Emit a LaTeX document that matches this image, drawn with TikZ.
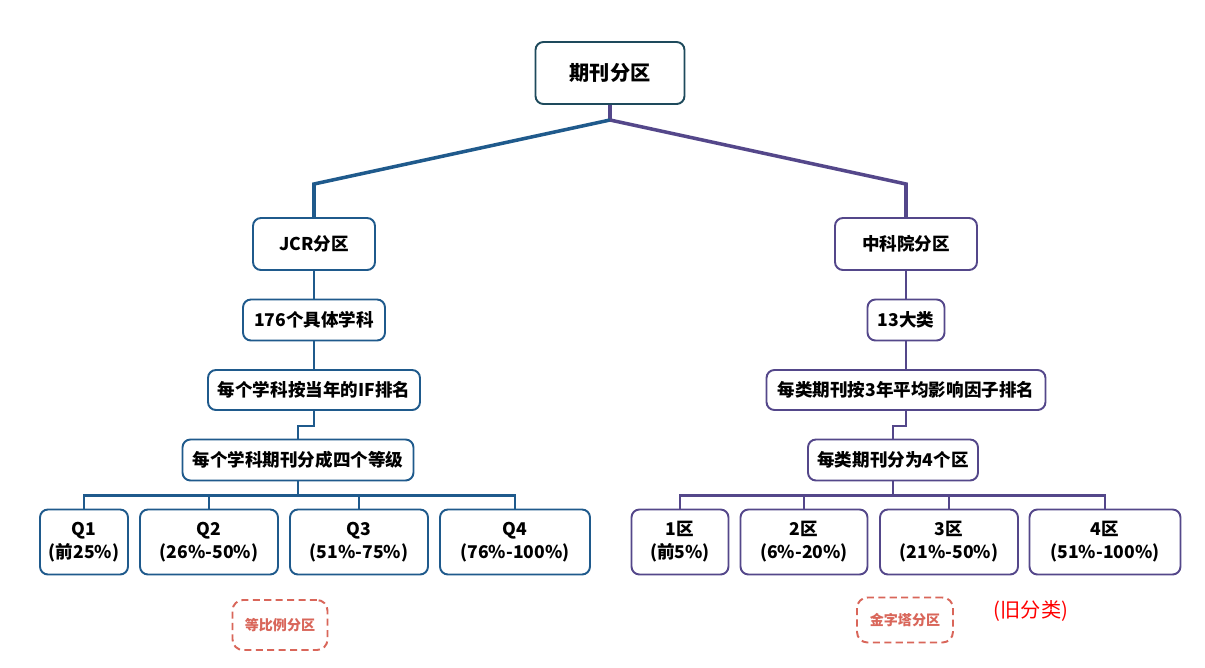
\documentclass[tikz,border=0pt]{standalone}
\usepackage{fontspec}
\setmainfont{Noto Sans CJK SC}
\usetikzlibrary{positioning}
\definecolor{topline}{HTML}{1E4A5C}
\definecolor{jcrblue}{HTML}{1F5A8C}
\definecolor{caspurple}{HTML}{54478A}
\definecolor{notered}{HTML}{D9665A}
\begin{document}
\begin{tikzpicture}[
		x=0.02cm, y=-0.02cm,
		box/.style={draw, rounded corners=4.5pt, line width=1.1pt, fill=white,
		inner sep=0pt, align=center, font=\fontsize{10}{13}\selectfont\bfseries},
		jcrbox/.style={box, draw=jcrblue},
		casbox/.style={box, draw=caspurple},
		jcrlink/.style={draw=jcrblue, line width=1.2pt},
		caslink/.style={draw=caspurple, line width=1.2pt},
		note/.style={draw=notered, dashed, dash pattern=on 4pt off 2.5pt, line width=1.1pt,
		rounded corners=6pt, text=notered, inner sep=0pt,
		font=\fontsize{8}{10}\selectfont\bfseries}
		]
		\useasboundingbox[fill=white] (0,0) rectangle (1205,667);
		% top
		\node[box, draw=topline, minimum width=2.98cm, minimum height=1.24cm,
		font=\fontsize{11.5}{14}\selectfont\bfseries] (top) at (610,73) {期刊分区};
		\coordinate (split) at (610,120);
		\coordinate (jcrbend) at (314,184);
		\coordinate (casbend) at (906,184);
		% JCR side
		\node[jcrbox, minimum width=2.44cm, minimum height=1.04cm] (jcr) at (314,244) {JCR分区};
		\node[jcrbox, minimum width=2.84cm, minimum height=0.82cm] (subj) at (314,320) {176个具体学科};
		\node[jcrbox, minimum width=4.24cm, minimum height=0.8cm] (ifrank) at (314,390) {每个学科按当年的IF排名};
		\node[jcrbox, minimum width=4.62cm, minimum height=0.82cm] (levels) at (298,460) {每个学科期刊分成四个等级};
		\node[jcrbox, minimum width=1.76cm, minimum height=1.3cm] (q1) at (84,542) {Q1\\(前25\%)};
		\node[jcrbox, minimum width=2.76cm, minimum height=1.3cm] (q2) at (209,542) {Q2\\(26\%-50\%)};
		\node[jcrbox, minimum width=2.76cm, minimum height=1.3cm] (q3) at (359,542) {Q3\\(51\%-75\%)};
		\node[jcrbox, minimum width=3.0cm, minimum height=1.3cm] (q4) at (515,542) {Q4\\(76\%-100\%)};
		% CAS side
		\node[casbox, minimum width=2.84cm, minimum height=1.04cm] (cas) at (906,244) {中科院分区};
		\node[casbox, minimum width=1.54cm, minimum height=0.82cm] (cat) at (906,320) {13大类};
		\node[casbox, minimum width=5.58cm, minimum height=0.8cm] (avgrank) at (906,390) {每类期刊按3年平均影响因子排名};
		\node[casbox, minimum width=3.4cm, minimum height=0.82cm] (zones) at (893,460) {每类期刊分为4个区};
		\node[casbox, minimum width=1.94cm, minimum height=1.3cm] (z1) at (680,542) {1区\\(前5\%)};
		\node[casbox, minimum width=2.54cm, minimum height=1.3cm] (z2) at (804,542) {2区\\(6\%-20\%)};
		\node[casbox, minimum width=2.76cm, minimum height=1.3cm] (z3) at (949,542) {3区\\(21\%-50\%)};
		\node[casbox, minimum width=3.02cm, minimum height=1.3cm] (z4) at (1105,542) {4区\\(51\%-100\%)};
		% notes
		\node[note, minimum width=1.9cm, minimum height=1.0cm] (ratio) at (280,625) {等比例分区};
		\node[note, minimum width=1.92cm, minimum height=0.9cm] (pyramid) at (905,620) {金字塔分区};
		\node[text=red, font=\fontsize{11.5}{14}\selectfont] (old) at (1031,611) {(旧分类)};
		% connectors
		\draw[caslink, line width=2pt] (top.south) -- (split);
		\draw[jcrlink, line width=2pt] (split) -- (jcrbend) -- (jcr.north);
		\draw[caslink, line width=2pt] (split) -- (casbend) -- (cas.north);
		\draw[jcrlink] (jcr) -- (subj);
		\draw[jcrlink] (subj) -- (ifrank);
		\draw[jcrlink] (ifrank.south) -- ++(0,15) -| (levels.north);
		\foreach \q in {q1,q2,q3,q4}
			\draw[jcrlink] (levels.south) -- ++(0,14) -| (\q.north);
		\draw[caslink] (cas) -- (cat);
		\draw[caslink] (cat) -- (avgrank);
		\draw[caslink] (avgrank.south) -- ++(0,15) -| (zones.north);
		\foreach \z in {z1,z2,z3,z4}
			\draw[caslink] (zones.south) -- ++(0,14) -| (\z.north);
	\end{tikzpicture}
\end{document}
